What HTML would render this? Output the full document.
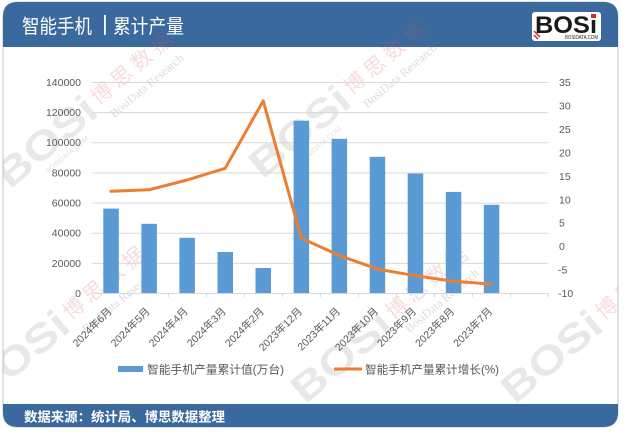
<!DOCTYPE html>
<html><head><meta charset="utf-8"><style>
html,body{margin:0;padding:0;background:#fff;}
svg{display:block;}
</style></head><body>
<svg width="625" height="434" viewBox="0 0 625 434" xmlns="http://www.w3.org/2000/svg" font-family="'Liberation Sans','Noto Sans CJK SC',sans-serif">
<defs>
<clipPath id="card"><path d="M3,17 Q3,2 18,2 H603 Q618,2 618,17 V412 Q618,427 603,427 H18 Q3,427 3,412 Z"/></clipPath>
</defs>
<rect width="625" height="434" fill="#fff"/>
<path d="M3,17 Q3,2 18,2 H603 Q618,2 618,17 V412 Q618,427 603,427 H18 Q3,427 3,412 Z" fill="#fff" stroke="#c4c4c4" stroke-width="1"/>
<g clip-path="url(#card)">
<rect x="0" y="0" width="625" height="47" fill="#3a699e"/>
<rect x="0" y="404" width="625" height="30" fill="#3a699e"/>
</g>
<!-- watermarks (under chart, faint) -->
<g clip-path="url(#card)">
<g transform="translate(263,180) rotate(-40)">
<text x="0" y="0" font-size="40" font-weight="bold" fill="#9a9a9a" opacity="0.22" textLength="118" lengthAdjust="spacingAndGlyphs">BOSi</text>
<text x="122" y="-8" font-size="21" fill="#e05050" opacity="0.2" letter-spacing="5">博思数据</text>
<text x="126" y="12" font-size="12" font-family="'Liberation Serif',serif" fill="#888" opacity="0.3">BosiData Research</text>
<text x="40" y="12" font-size="7" fill="#888" opacity="0.25">BOSIDATA.COM</text>
</g>
<g transform="translate(10,190) rotate(-40)">
<text x="0" y="0" font-size="40" font-weight="bold" fill="#9a9a9a" opacity="0.22" textLength="118" lengthAdjust="spacingAndGlyphs">BOSi</text>
<text x="122" y="-8" font-size="21" fill="#e05050" opacity="0.2" letter-spacing="5">博思数据</text>
<text x="126" y="12" font-size="12" font-family="'Liberation Serif',serif" fill="#888" opacity="0.3">BosiData Research</text>
<text x="40" y="12" font-size="7" fill="#888" opacity="0.25">BOSIDATA.COM</text>
</g>
<g transform="translate(-18,405) rotate(-40)">
<text x="0" y="0" font-size="40" font-weight="bold" fill="#9a9a9a" opacity="0.22" textLength="118" lengthAdjust="spacingAndGlyphs">BOSi</text>
<text x="122" y="-8" font-size="21" fill="#e05050" opacity="0.2" letter-spacing="5">博思数据</text>
<text x="126" y="12" font-size="12" font-family="'Liberation Serif',serif" fill="#888" opacity="0.3">BosiData Research</text>
</g>
<g transform="translate(305,405) rotate(-40)">
<text x="0" y="0" font-size="40" font-weight="bold" fill="#9a9a9a" opacity="0.22" textLength="118" lengthAdjust="spacingAndGlyphs">BOSi</text>
<text x="122" y="-8" font-size="21" fill="#e05050" opacity="0.2" letter-spacing="5">博思数据</text>
<text x="126" y="12" font-size="12" font-family="'Liberation Serif',serif" fill="#888" opacity="0.3">BosiData Research</text>
</g>
<g transform="translate(515,405) rotate(-40)">
<text x="0" y="0" font-size="40" font-weight="bold" fill="#9a9a9a" opacity="0.22" textLength="118" lengthAdjust="spacingAndGlyphs">BOSi</text>
<text x="122" y="-8" font-size="21" fill="#e05050" opacity="0.2" letter-spacing="5">博思数据</text>
</g>
</g>
<!-- title -->
<text x="22" y="33" font-size="19.5" fill="#fff" textLength="70" lengthAdjust="spacingAndGlyphs">智能手机</text>
<rect x="104" y="15" width="1.8" height="20" fill="#fff"/>
<text x="113" y="33" font-size="19.5" fill="#fff" textLength="71" lengthAdjust="spacingAndGlyphs">累计产量</text>
<!-- logo -->
<rect x="532" y="12" width="69" height="29" rx="3" fill="#fff"/>
<text x="535" y="33" font-size="24" font-weight="bold" fill="#1a1a1a" textLength="62" lengthAdjust="spacingAndGlyphs">BOSi</text>
<rect x="591" y="14" width="5" height="4" fill="#d42a2a"/>
<path d="M534,31 l6,6 M534,35 l4,4" stroke="#d42a2a" stroke-width="1.5"/>
<text x="565" y="39" font-size="5" fill="#1a1a1a" textLength="33" lengthAdjust="spacingAndGlyphs">BOSIDATA.COM</text>
<!-- gridlines -->
<g stroke="#d9d9d9" stroke-width="1">
<line x1="92" x2="548" y1="82.5" y2="82.5"/>
<line x1="92" x2="548" y1="112.6" y2="112.6"/>
<line x1="92" x2="548" y1="142.8" y2="142.8"/>
<line x1="92" x2="548" y1="172.9" y2="172.9"/>
<line x1="92" x2="548" y1="203.1" y2="203.1"/>
<line x1="92" x2="548" y1="233.2" y2="233.2"/>
<line x1="92" x2="548" y1="263.4" y2="263.4"/>
<line x1="92" x2="548" y1="293.5" y2="293.5"/>
</g>
<g stroke="#d9d9d9" stroke-width="1">
<line x1="92.5" x2="92.5" y1="293" y2="297"/>
<line x1="130.5" x2="130.5" y1="293" y2="297"/>
<line x1="168.5" x2="168.5" y1="293" y2="297"/>
<line x1="206.5" x2="206.5" y1="293" y2="297"/>
<line x1="244.5" x2="244.5" y1="293" y2="297"/>
<line x1="282.5" x2="282.5" y1="293" y2="297"/>
<line x1="320.5" x2="320.5" y1="293" y2="297"/>
<line x1="358.5" x2="358.5" y1="293" y2="297"/>
<line x1="396.5" x2="396.5" y1="293" y2="297"/>
<line x1="434.5" x2="434.5" y1="293" y2="297"/>
<line x1="472.5" x2="472.5" y1="293" y2="297"/>
<line x1="510.5" x2="510.5" y1="293" y2="297"/>
<line x1="548.5" x2="548.5" y1="293" y2="297"/>
</g>
<!-- left axis labels -->
<g font-size="10.5" fill="#595959" text-anchor="end">
<text x="81" y="86">140000</text>
<text x="81" y="116">120000</text>
<text x="81" y="146">100000</text>
<text x="81" y="176.5">80000</text>
<text x="81" y="206.5">60000</text>
<text x="81" y="236.5">40000</text>
<text x="81" y="267">20000</text>
<text x="81" y="297">0</text>
</g>
<!-- right axis labels -->
<g font-size="10.5" fill="#595959">
<text x="559" y="86">35</text>
<text x="559" y="109.5">30</text>
<text x="559" y="133">25</text>
<text x="559" y="156.5">20</text>
<text x="559" y="180">15</text>
<text x="559" y="203.5">10</text>
<text x="559" y="226.5">5</text>
<text x="559" y="250">0</text>
<text x="558" y="273.5">-5</text>
<text x="558" y="297">-10</text>
</g>
<!-- bars -->
<g fill="#5b9bd5">
<rect x="103.3" y="208.6" width="15.5" height="84.4"/>
<rect x="141.4" y="223.8" width="15.5" height="69.2"/>
<rect x="179.4" y="237.8" width="15.5" height="55.2"/>
<rect x="217.5" y="252.0" width="15.5" height="41.0"/>
<rect x="255.5" y="268.0" width="15.5" height="25.0"/>
<rect x="293.6" y="120.7" width="15.5" height="172.3"/>
<rect x="331.6" y="138.8" width="15.5" height="154.2"/>
<rect x="369.7" y="156.8" width="15.5" height="136.2"/>
<rect x="407.7" y="173.5" width="15.5" height="119.5"/>
<rect x="445.8" y="191.9" width="15.5" height="101.1"/>
<rect x="483.8" y="204.8" width="15.5" height="88.2"/>
</g>
<!-- line -->
<polyline fill="none" stroke="#ed7d31" stroke-width="3" stroke-linejoin="round" stroke-linecap="round"
points="111,191.3 149.1,189.8 187.1,180 225.2,168.3 263.2,100.8 301.3,238.1 339.3,255.5 377.4,269.1 415.4,275.7 453.5,281.3 491.6,284.1"/>
<!-- category labels -->
<g font-size="10.5" fill="#595959" text-anchor="end">
<text transform="translate(112.5,312) rotate(-45)">2024年6月</text>
<text transform="translate(150.6,312) rotate(-45)">2024年5月</text>
<text transform="translate(188.6,312) rotate(-45)">2024年4月</text>
<text transform="translate(226.7,312) rotate(-45)">2024年3月</text>
<text transform="translate(264.7,312) rotate(-45)">2024年2月</text>
<text transform="translate(302.8,312) rotate(-45)">2023年12月</text>
<text transform="translate(340.8,312) rotate(-45)">2023年11月</text>
<text transform="translate(378.9,312) rotate(-45)">2023年10月</text>
<text transform="translate(416.9,312) rotate(-45)">2023年9月</text>
<text transform="translate(455,312) rotate(-45)">2023年8月</text>
<text transform="translate(493.1,312) rotate(-45)">2023年7月</text>
</g>
<!-- legend -->
<rect x="118" y="366" width="25" height="6" fill="#5b9bd5"/>
<text x="147" y="373.5" font-size="11.6" fill="#595959" textLength="137" lengthAdjust="spacingAndGlyphs">智能手机产量累计值(万台)</text>
<line x1="334" x2="362" y1="369" y2="369" stroke="#ed7d31" stroke-width="3"/>
<text x="365" y="373.5" font-size="11.6" fill="#595959" textLength="134" lengthAdjust="spacingAndGlyphs">智能手机产量累计增长(%)</text>
<!-- footer -->
<text x="24" y="421.5" font-size="13.3" font-weight="bold" fill="#fff" textLength="201" lengthAdjust="spacingAndGlyphs">数据来源：统计局、博思数据整理</text>
</svg>
</body></html>
